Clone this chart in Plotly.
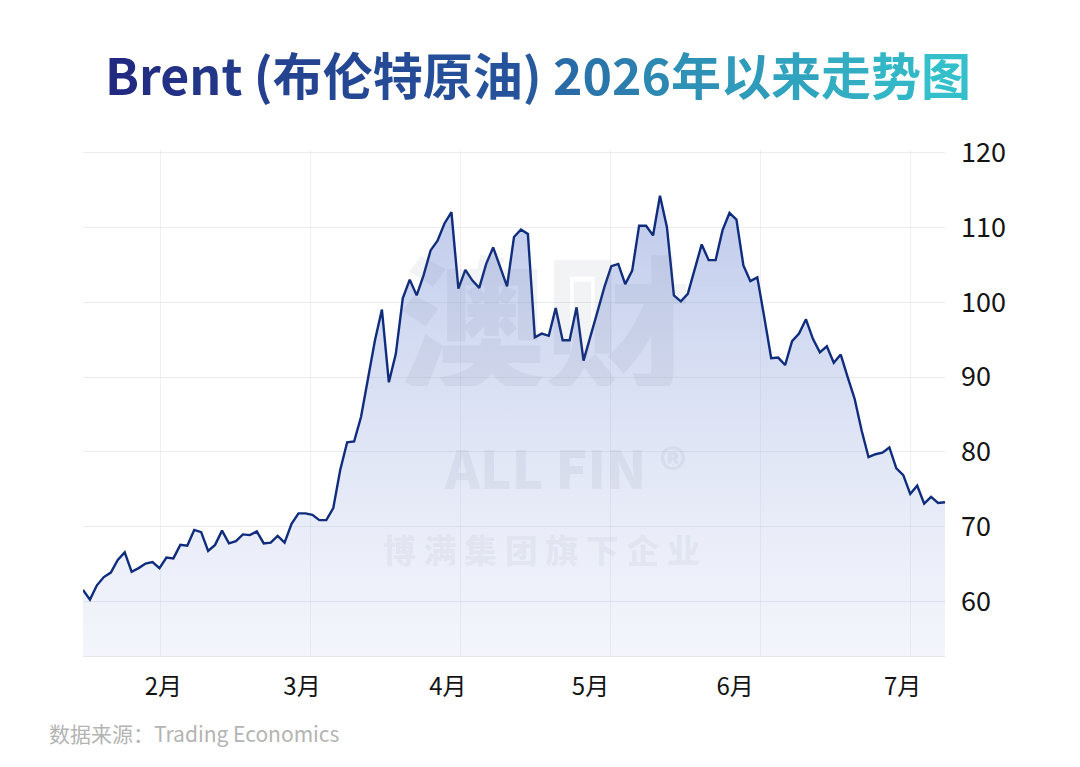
import plotly.graph_objects as go

# ---- data ----
prices = [
    61.6, 60.3, 62.2, 63.3, 63.9, 65.6, 66.6, 64.0, 64.5, 65.1,
    65.3, 64.5, 65.9, 65.8, 67.6, 67.5, 69.6, 69.3, 66.8, 67.6,
    69.5, 67.8, 68.1, 69.0, 68.9, 69.4, 67.8, 67.9, 68.8, 67.9,
    70.4, 71.8, 71.8, 71.6, 70.9, 70.9, 72.5, 77.6, 81.3, 81.4,
    84.7, 89.6, 94.9, 99.0, 89.3, 93.1, 100.5, 103.0, 100.9, 103.6,
    106.9, 108.2, 110.5, 112.0, 101.8, 104.3, 102.9, 101.9, 105.1, 107.3,
    104.7, 102.1, 108.7, 109.7, 109.1, 95.3, 95.8, 95.5, 99.2, 94.9,
    94.9, 99.3, 92.2, 95.6, 98.7, 102.0, 104.8, 105.1, 102.4, 104.2,
    110.2, 110.2, 108.9, 114.2, 110.0, 100.9, 100.1, 101.1, 104.5, 107.7,
    105.6, 105.6, 109.6, 111.9, 111.0, 104.9, 102.8, 103.3, 98.0, 92.5,
    92.6, 91.6, 94.8, 95.8, 97.7, 95.1, 93.3, 94.1, 91.9, 93.0,
    90.0, 87.1, 82.9, 79.3, 79.7, 79.9, 80.6, 77.8, 76.9, 74.4,
    75.5, 73.1, 74.0, 73.2, 73.3,
]
trading_day = list(range(len(prices)))

month_labels = ["2月", "3月", "4月", "5月", "6月", "7月"]
month_start_day = [11.55, 31.5, 52.5, 73.0, 93.8, 117.9]
y_ticks = [60, 70, 80, 90, 100, 110, 120]

title_text = "Brent (布伦特原油) 2026年以来走势图"
source_text = "数据来源：Trading Economics"

# ---- layout geometry ----
W, H = 1080, 767
L, R, T, B = 83, 135, 149.5, 111
plot_w = W - L - R
plot_h = H - T - B
x_range = [0, len(prices) - 1]
y_range = [52.77, 120.3]


def px_x(px):
    return (px - L) / plot_w


def px_y(py):
    return (H - B - py) / plot_h


# gradient title
def lerp(c1, c2, t):
    return tuple(round(a + (b - a) * t) for a, b in zip(c1, c2))


stops = [(0.0, (33, 42, 128)), (0.5, (38, 84, 156)), (1.0, (52, 192, 202))]


def grad_color(t):
    for (t0, c0), (t1, c1) in zip(stops[:-1], stops[1:]):
        if t <= t1:
            return lerp(c0, c1, (t - t0) / (t1 - t0))
    return stops[-1][1]


chars = list(title_text)
n = len(chars)
title_html = "".join(
    "<span style='color:rgb(%d,%d,%d)'>%s</span>" % (*grad_color(i / (n - 1)), ch)
    for i, ch in enumerate(chars)
)

fig = go.Figure()

fig.add_trace(go.Scatter(
    x=trading_day, y=prices, mode="lines",
    line=dict(color="#102c7c", width=2.4),
    fill="tozeroy",
    fillgradient=dict(
        type="vertical",
        start=y_range[0], stop=max(prices),
        colorscale=[[0, "rgba(190,200,235,0.18)"], [1, "rgba(118,143,214,0.47)"]],
    ),
    hoverinfo="skip", showlegend=False,
))
# helper trace for the vertical grid axis
fig.add_trace(go.Scatter(
    x=trading_day, y=prices, mode="none", xaxis="x2",
    hoverinfo="skip", showlegend=False,
))

fig.update_layout(
    width=W, height=H,
    margin=dict(l=L, r=R, t=T, b=B),
    paper_bgcolor="white", plot_bgcolor="white",
    font=dict(family="Noto Sans CJK SC, Noto Sans, sans-serif"),
    xaxis=dict(
        range=x_range, tickvals=month_start_day, ticktext=month_labels,
        showgrid=False, zeroline=False, ticks="",
        showline=True, linecolor="#e4e6ea", linewidth=1,
        tickfont=dict(size=24, color="#141414"),
        ticklabelstandoff=9,
    ),
    xaxis2=dict(
        range=x_range, overlaying="x", anchor="y",
        tick0=11.12, dtick=21.57, showticklabels=False,
        showgrid=True, gridcolor="rgba(200,203,215,0.28)", gridwidth=1,
        zeroline=False, ticks="",
    ),
    yaxis=dict(
        range=y_range, side="right", tickvals=y_ticks,
        showgrid=True, gridcolor="#ebecef", gridwidth=1,
        zeroline=False, ticks="", showline=False,
        tickfont=dict(size=27, color="#141414"),
        ticklabelstandoff=15,
    ),
)

wm_color = "rgba(95,105,130,0.08)"
annotations = [
    dict(text=title_html, x=px_x(538), y=px_y(72), xref="paper", yref="paper",
         xanchor="center", yanchor="middle", showarrow=False,
         font=dict(size=50, family="Noto Sans CJK SC", weight=700)),
    dict(text=source_text, x=px_x(47), y=px_y(733), xref="paper", yref="paper",
         xanchor="left", yanchor="middle", showarrow=False,
         font=dict(size=21, color="#b4b4b4", family="Noto Sans CJK SC")),
    # watermark
    dict(text="澳财", x=px_x(545), y=px_y(316), xref="paper", yref="paper",
         xanchor="center", yanchor="middle", showarrow=False, height=140,
         font=dict(size=146, color=wm_color, family="Noto Sans CJK SC", weight=900)),
    dict(text="ALL FIN ®", x=px_x(565), y=px_y(466), xref="paper", yref="paper",
         xanchor="center", yanchor="middle", showarrow=False, height=46,
         font=dict(size=53, color=wm_color, family="Noto Sans CJK SC", weight=900)),
    dict(text="博 满 集 团 旗 下 企 业", x=px_x(541), y=px_y(549), xref="paper", yref="paper",
         xanchor="center", yanchor="middle", showarrow=False, height=36,
         font=dict(size=33, color="rgba(95,105,130,0.07)", family="Noto Sans CJK SC", weight=900)),
]
fig.update_layout(annotations=annotations)

fig.write_html("out.html")
